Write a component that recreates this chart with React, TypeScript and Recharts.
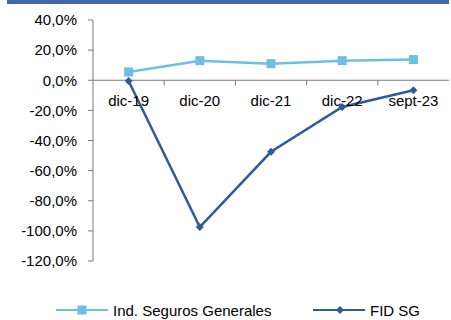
import { Line, LineChart, ReferenceLine, XAxis, YAxis } from "recharts"

const periods = ["dic-19", "dic-20", "dic-21", "dic-22", "sept-23"]
const industria = [5.5, 13.0, 11.0, 13.0, 13.7]
const fidSg = [-0.5, -97.5, -47.5, -17.7, -6.6]
const yTicks = [-120, -100, -80, -60, -40, -20, 0, 20, 40]

const LIGHT = "#6dbfe3"
const DARK = "#2f5b96"
const AXIS = "#7a7a7a"
const FONT = "'Liberation Sans', Arial, sans-serif"

const W = 451
const H = 320
const M = { top: 20, right: 2, bottom: 58, left: 0 }
const Y_AXIS_W = 93
const Y_MIN = -120
const Y_MAX = 40
// pixel row of the zero line, derived from the plot box and domain
const ZERO_Y = M.top + ((Y_MAX - 0) / (Y_MAX - Y_MIN)) * (H - M.top - M.bottom)
const BAND = (W - Y_AXIS_W - M.right) / periods.length

const data = periods.map((p, i) => ({ p, ind: industria[i], fid: fidSg[i] }))

const fmt = (v: number) => `${v.toFixed(1).replace(".", ",")}%`

// category labels sit just under the zero line, with tick marks between categories
function CategoryTick(props: any) {
  const { x, payload, index } = props
  const last = index === periods.length - 1
  return (
    <g>
      {!last && (
        <line x1={x + BAND / 2} x2={x + BAND / 2} y1={ZERO_Y} y2={ZERO_Y + 5} stroke={AXIS} />
      )}
      <text x={x} y={ZERO_Y + 20} textAnchor="middle" dominantBaseline="central" fontSize={15} fontFamily={FONT} fill="#000">
        {payload.value}
      </text>
    </g>
  )
}

function SquareDot(props: any) {
  const { cx, cy } = props
  return <rect x={cx - 4.5} y={cy - 4.5} width={9} height={9} fill={LIGHT} />
}

function DiamondDot(props: any) {
  const { cx, cy } = props
  return <path d={`M${cx},${cy - 4} L${cx + 4},${cy} L${cx},${cy + 4} L${cx - 4},${cy} Z`} fill={DARK} />
}

function ChartLegend() {
  const item = (x: number, color: string, label: string, square: boolean) => (
    <g key={label}>
      <line x1={x} x2={x + 52} y1={10} y2={10} stroke={color} strokeWidth={2.2} />
      {square ? (
        <rect x={x + 21.5} y={5.5} width={9} height={9} fill={color} />
      ) : (
        <path d={`M${x + 27},6 L${x + 31},10 L${x + 27},14 L${x + 23},10 Z`} fill={color} />
      )}
      <text x={x + 57} y={10} dominantBaseline="central" fontSize={15} fontFamily={FONT} fill="#000">
        {label}
      </text>
    </g>
  )
  return (
    <svg width={W} height={20} style={{ position: "absolute", left: 0, top: 300 }}>
      {item(56, LIGHT, "Ind. Seguros Generales", true)}
      {item(313, DARK, "FID SG", false)}
    </svg>
  )
}

export default function App() {
  return (
    <div style={{ position: "fixed", left: 0, top: 0, width: W, height: H, background: "#fff" }}>
      <div style={{ position: "absolute", left: 7, top: 0, width: 442, height: 4, background: "#3d6aa6" }} />
      <LineChart width={W} height={H} data={data} margin={M}>
        <XAxis
          dataKey="p"
          scale="band"
          height={1}
          axisLine={false}
          tickLine={false}
          tick={<CategoryTick />}
          interval={0}
        />
        <YAxis
          width={Y_AXIS_W}
          domain={[Y_MIN, Y_MAX]}
          ticks={yTicks}
          tickFormatter={fmt}
          tickSize={5}
          tickMargin={11}
          axisLine={{ stroke: AXIS }}
          tickLine={{ stroke: AXIS }}
          tick={{ fontSize: 15, fontFamily: FONT, fill: "#000" }}
          interval={0}
        />
        <ReferenceLine y={0} stroke={AXIS} strokeWidth={1} />
        <Line
          dataKey="ind"
          stroke={LIGHT}
          strokeWidth={2.5}
          dot={<SquareDot />}
          activeDot={false}
          isAnimationActive={false}
        />
        <Line
          dataKey="fid"
          stroke={DARK}
          strokeWidth={2.5}
          dot={<DiamondDot />}
          activeDot={false}
          isAnimationActive={false}
        />
      </LineChart>
      <ChartLegend />
    </div>
  )
}
